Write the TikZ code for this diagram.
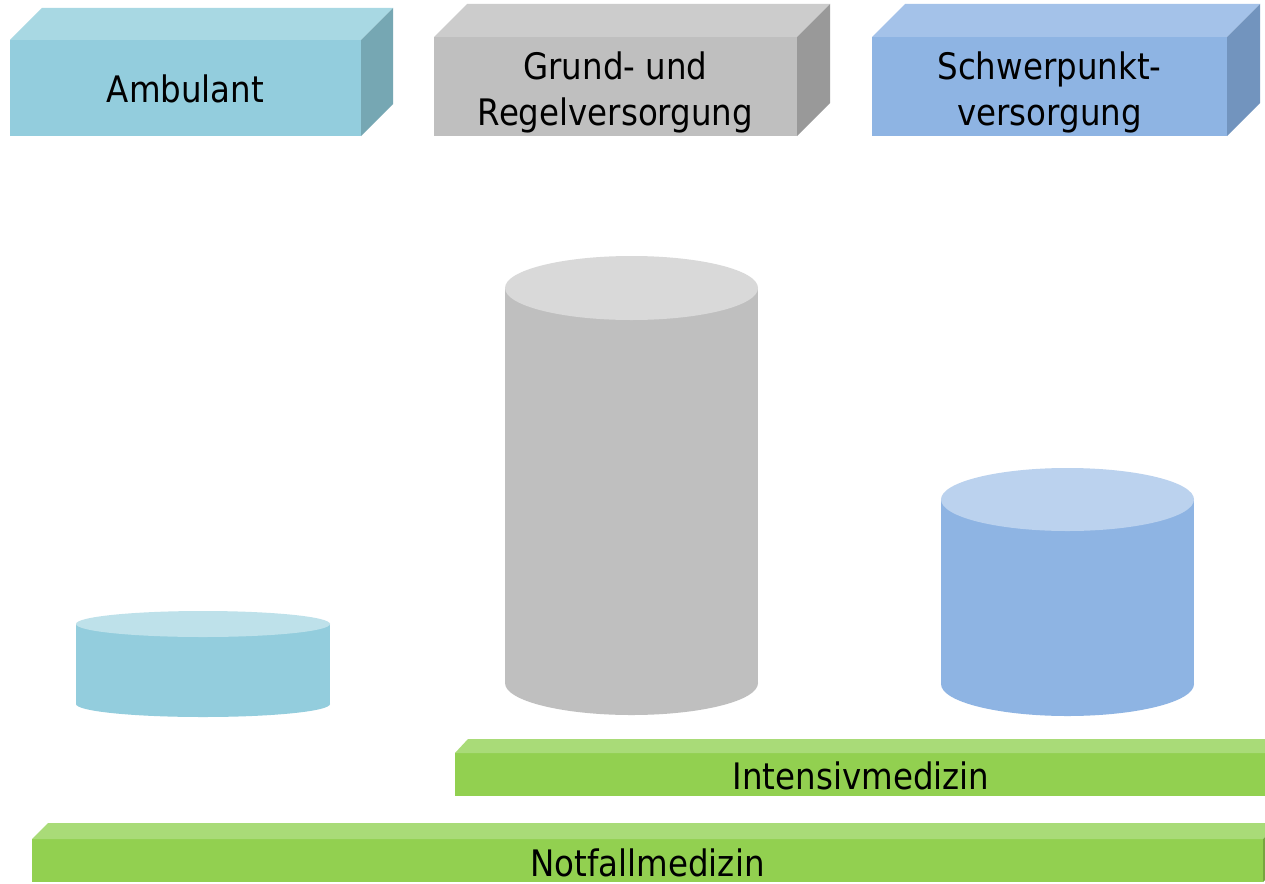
\documentclass[tikz,border=0pt]{standalone}
\usepackage{fontspec}
\setmainfont{DejaVu Sans}[FakeStretch=0.89]
\definecolor{aqF}{HTML}{93CDDD}
\definecolor{aqT}{HTML}{A8D8E3}
\definecolor{aqS}{HTML}{76A7B3}
\definecolor{aqC}{HTML}{BEE1EA}
\definecolor{grF}{HTML}{BFBFBF}
\definecolor{grT}{HTML}{CCCCCC}
\definecolor{grS}{HTML}{999999}
\definecolor{grC}{HTML}{D9D9D9}
\definecolor{blF}{HTML}{8EB4E3}
\definecolor{blT}{HTML}{A4C2E9}
\definecolor{blS}{HTML}{7294BE}
\definecolor{blC}{HTML}{BBD2EE}
\definecolor{gnF}{HTML}{92D050}
\definecolor{gnT}{HTML}{A9DB78}
\definecolor{gnS}{HTML}{75A640}
\tikzset{
  lbl/.style={inner sep=0pt, font=\fontsize{36.5}{46}\selectfont, text=black, align=center}
}
\begin{document}
\begin{tikzpicture}[x=1pt,y=-1pt]
\useasboundingbox (0,0) rectangle (1265,883);
\fill[white] (0,0) rectangle (1265,883);
% ---- top boxes ----
% Ambulant
\fill[aqF] (10,40) rectangle (361,136);
\fill[aqT] (10,40) -- (42,8) -- (393,8) -- (361,40) -- cycle;
\fill[aqS] (361,40) -- (393,8) -- (393,104) -- (361,136) -- cycle;
\node[lbl, anchor=base] (amb) at (185.5,102) {Ambulant};
% Grund- und Regelversorgung
\fill[grF] (434,37) rectangle (797,136);
\fill[grT] (434,37) -- (467,4) -- (830,4) -- (797,37) -- cycle;
\fill[grS] (797,37) -- (830,4) -- (830,103) -- (797,136) -- cycle;
\node[lbl] (grund) at (615.5,92) {Grund- und\\Regelversorgung};
% Schwerpunktversorgung
\fill[blF] (872,37) rectangle (1227,136);
\fill[blT] (872,37) -- (905,4) -- (1260,4) -- (1227,37) -- cycle;
\fill[blS] (1227,37) -- (1260,4) -- (1260,103) -- (1227,136) -- cycle;
\node[lbl] (schwer) at (1049.5,92) {Schwerpunkt-\\versorgung};
% ---- cylinders ----
% small aqua
\fill[aqF] (76,624) rectangle (330,704);
\fill[aqF] (203,704) ellipse [x radius=127, y radius=13];
\fill[aqC] (203,624) ellipse [x radius=127, y radius=13];
% gray
\fill[grF] (505,288) rectangle (758,683);
\fill[grF] (631.5,683) ellipse [x radius=126.5, y radius=32];
\fill[grC] (631.5,288) ellipse [x radius=126.5, y radius=32];
% blue
\fill[blF] (941,499.5) rectangle (1194,684);
\fill[blF] (1067.5,684) ellipse [x radius=126.5, y radius=32];
\fill[blC] (1067.5,499.5) ellipse [x radius=126.5, y radius=31.5];
% ---- green bars ----
\fill[gnF] (455,753) rectangle (1267,796);
\fill[gnT] (455,753) -- (468,739) -- (1280,739) -- (1267,753) -- cycle;
\node[lbl, anchor=base] (intens) at (861,789.5) {Intensivmedizin};
\fill[gnF] (32,839) rectangle (1263,882);
\fill[gnT] (32,839) -- (48,823) -- (1279,823) -- (1263,839) -- cycle;
\fill[gnS] (1263,839) -- (1279,823) -- (1279,866) -- (1263,882) -- cycle;
\node[lbl, anchor=base] (notf) at (647.5,876.7) {Notfallmedizin};
\end{tikzpicture}
\end{document}
